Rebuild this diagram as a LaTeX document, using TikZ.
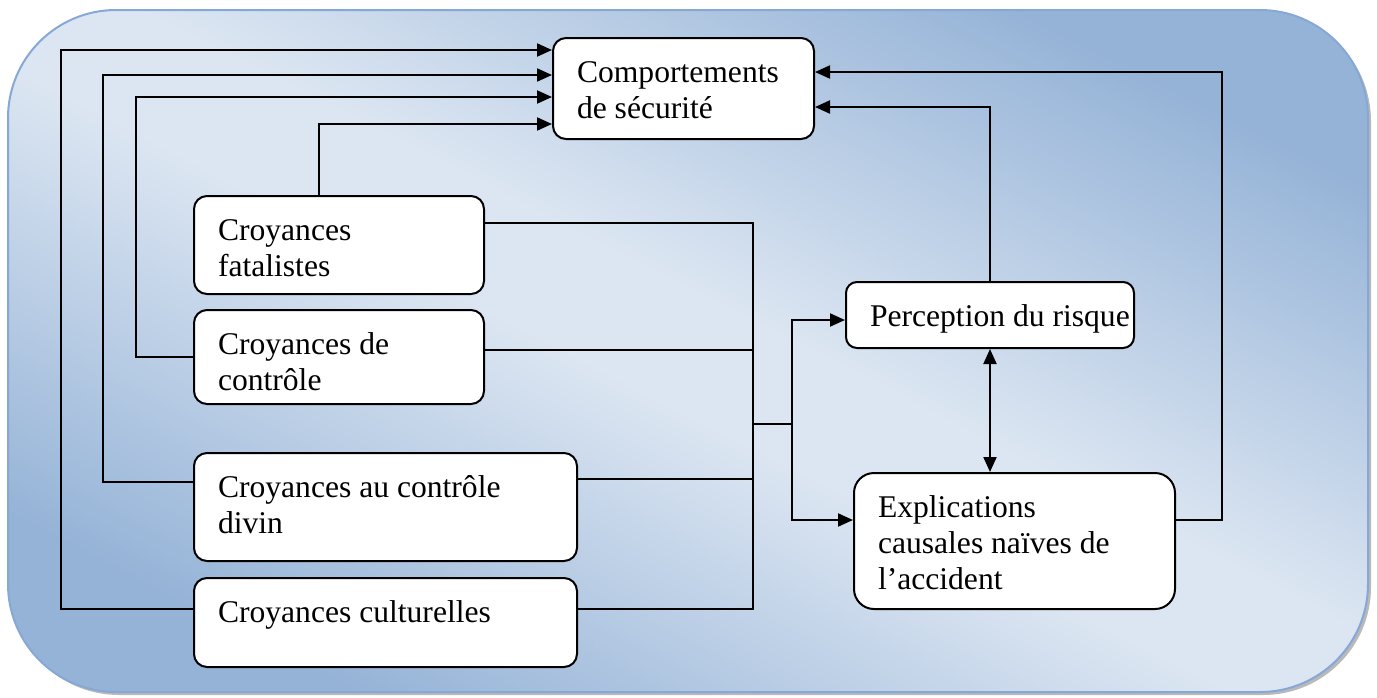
\documentclass[tikz,border=0pt]{standalone}
\usepackage{fontspec}
\setmainfont{Liberation Serif}
\usepackage{tikz}
\usetikzlibrary{arrows.meta}

\definecolor{bgdark}{HTML}{95B3D7}
\definecolor{bglight}{HTML}{DCE6F2}
\definecolor{bgborder}{HTML}{86A8D6}

\pgfdeclareverticalshading{bgband}{100bp}{color(0bp)=(bgdark); color(25bp)=(bgdark);
  color(47bp)=(bglight); color(53bp)=(bglight); color(75bp)=(bgdark); color(100bp)=(bgdark)}

\newcommand{\boxtxt}[3]{\parbox[c][#2][t]{#1}{\raggedright\leftskip=12pt\vspace*{9.4pt}\strut#3}}

\tikzset{
  bloc/.style={draw, fill=white, line width=1pt, rounded corners=6.5pt, inner sep=0pt,
    anchor=north west, font=\fontsize{15.8}{18}\selectfont},
  wire/.style={line width=1pt},
  link/.style={line width=1pt, -{Triangle[length=7.5pt,width=6.5pt]}},
  both/.style={line width=1pt, {Triangle[length=7.5pt,width=6.5pt]}-{Triangle[length=7.5pt,width=6.5pt]}}
}

\begin{document}
\begin{tikzpicture}[x=0.5pt,y=-0.5pt]
  \useasboundingbox (0,0) rectangle (1377,697);
  \fill[gray!55, rounded corners=54pt] (11,13) rectangle (1371,695);
  \path[draw=bgborder, line width=1pt, rounded corners=54pt, shading=bgband, shading angle=-27]
    (8,10) rectangle (1368,692);

  \node[bloc] (comp) at (552,37) {\boxtxt{130.5pt}{50.5pt}{Comportements\\de sécurité}};
  \node[bloc] (fat) at (193,195) {\boxtxt{145pt}{49pt}{Croyances\\fatalistes}};
  \node[bloc] (ctl) at (193,309) {\boxtxt{145pt}{47pt}{Croyances de\\contrôle}};
  \node[bloc] (div) at (193,452) {\boxtxt{191.5pt}{54pt}{Croyances au contrôle\\divin}};
  \node[bloc] (cul) at (193,577) {\boxtxt{191.5pt}{44.5pt}{Croyances culturelles}};
  \node[bloc, rounded corners=5.5pt] (per) at (845,281) {\boxtxt{144pt}{33pt}{Perception du risque}};
  \node[bloc, rounded corners=10pt] (exp) at (853,472) {\boxtxt{160.5pt}{68pt}{Explications\\causales naïves de\\l’accident}};

  \coordinate (jt) at (753,424);
  \coordinate (sp) at (792,424);

  \draw[link] (cul.west |- 0,609) -| (61,50) -- (comp.west |- 0,50);
  \draw[link] (div.west |- 0,482) -| (103,75) -- (comp.west |- 0,75);
  \draw[link] (ctl.west) -| (136,97) -- (comp.west |- 0,97);
  \draw[link] (319,0 |- fat.north) |- (comp.west |- 0,124);

  \draw[wire] (fat.east |- 0,223) -| (jt);
  \draw[wire] (cul.east |- 0,609) -| (jt);
  \draw[wire] (ctl.east |- 0,350) -- (jt |- 0,350);
  \draw[wire] (div.east |- 0,479) -- (jt |- 0,479);
  \draw[wire] (jt) -- (sp);
  \draw[link] (sp) |- (per.west |- 0,320);
  \draw[link] (sp) |- (exp.west |- 0,520);

  \draw[both] (per.south) -- (per.south |- exp.north);
  \draw[link] (per.north) |- (comp.east |- 0,107);
  \draw[link] (exp.east |- 0,520) -| (1222,72) -- (comp.east |- 0,72);
\end{tikzpicture}
\end{document}
